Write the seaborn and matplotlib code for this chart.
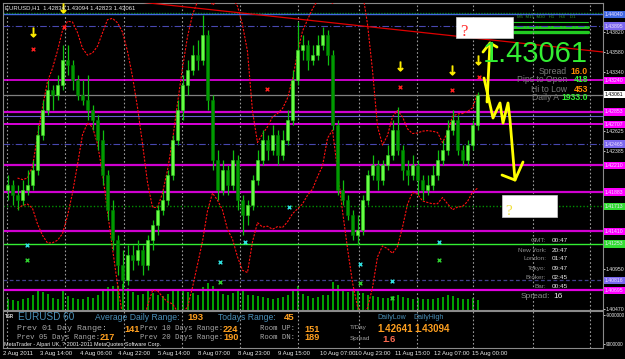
import numpy as np
import pandas as pd
import matplotlib
matplotlib.use("Agg")
import matplotlib.pyplot as plt
import matplotlib.transforms as mtransforms
from matplotlib.patches import Rectangle
import seaborn as sns

# ---------------- data (EURUSD, 2-hour candles) ----------------
bar_open = [1.41907, 1.41968, 1.41847, 1.41786, 1.41907, 1.41968, 1.42150, 1.42574, 1.42877, 1.43119,
            1.43059, 1.43180, 1.43483, 1.43422, 1.43240, 1.43059, 1.42998, 1.42877, 1.42756, 1.42513,
            1.42089, 1.41665, 1.41301, 1.40998, 1.40816, 1.41119, 1.41059, 1.41180, 1.40998, 1.41301,
            1.41483, 1.41665, 1.41786, 1.42089, 1.42513, 1.42877, 1.43180, 1.43362, 1.43543, 1.43483,
            1.43786, 1.42998, 1.42271, 1.41907, 1.42150, 1.41968, 1.42271, 1.41786, 1.41604, 1.41725,
            1.42028, 1.42271, 1.42513, 1.42392, 1.42574, 1.42331, 1.42513, 1.42756, 1.43240, 1.43604,
            1.43665, 1.43483, 1.43543, 1.43665, 1.43786, 1.43543, 1.42695, 1.41907, 1.41786, 1.41604,
            1.41362, 1.41422, 1.41786, 1.42089, 1.42210, 1.42028, 1.42210, 1.42331, 1.42634, 1.42392,
            1.42150, 1.42089, 1.42210, 1.42028, 1.41907, 1.41968, 1.42089, 1.42271, 1.42392, 1.42634,
            1.42756, 1.42392, 1.42271, 1.42453, 1.42695]
bar_high = [1.42089, 1.42028, 1.41968, 1.42028, 1.42150, 1.42271, 1.42695, 1.42998, 1.43240, 1.43180,
            1.43301, 1.43665, 1.43665, 1.43483, 1.43301, 1.43240, 1.43301, 1.42937, 1.42816, 1.42634,
            1.42150, 1.41786, 1.41362, 1.41180, 1.41241, 1.41241, 1.41301, 1.41241, 1.41362, 1.41544,
            1.41725, 1.41907, 1.42150, 1.42574, 1.42998, 1.43301, 1.43483, 1.43665, 1.43725, 1.44028,
            1.43846, 1.43059, 1.42392, 1.42271, 1.42210, 1.42392, 1.42331, 1.41847, 1.41786, 1.42089,
            1.42392, 1.42634, 1.42574, 1.42695, 1.42634, 1.42634, 1.42877, 1.43362, 1.43943, 1.43786,
            1.43725, 1.43665, 1.43786, 1.43883, 1.43846, 1.43604, 1.42756, 1.42028, 1.41847, 1.41665,
            1.41604, 1.41847, 1.42150, 1.42331, 1.42271, 1.42271, 1.42453, 1.42756, 1.42913, 1.42453,
            1.42271, 1.42331, 1.42271, 1.42089, 1.42089, 1.42210, 1.42392, 1.42513, 1.42756, 1.42877,
            1.42816, 1.42453, 1.42513, 1.42756, 1.43095]
bar_low = [1.41786, 1.41725, 1.41665, 1.41725, 1.41847, 1.41907, 1.42089, 1.42513, 1.42816, 1.42877,
           1.42998, 1.43119, 1.43301, 1.43119, 1.42998, 1.42937, 1.42756, 1.42634, 1.42392, 1.41968,
           1.41544, 1.41180, 1.40877, 1.40695, 1.40756, 1.40938, 1.40998, 1.40877, 1.40938, 1.41180,
           1.41362, 1.41604, 1.41725, 1.42028, 1.42453, 1.42756, 1.43059, 1.43301, 1.43362, 1.43422,
           1.42877, 1.42150, 1.41786, 1.41847, 1.41847, 1.41907, 1.41665, 1.41362, 1.41483, 1.41665,
           1.41968, 1.42210, 1.42271, 1.42331, 1.42210, 1.42271, 1.42453, 1.42695, 1.43180, 1.43483,
           1.43362, 1.43422, 1.43483, 1.43604, 1.43422, 1.42634, 1.41847, 1.41725, 1.41544, 1.41301,
           1.41241, 1.41362, 1.41725, 1.42028, 1.41907, 1.41968, 1.42150, 1.42271, 1.42331, 1.42028,
           1.41968, 1.42028, 1.41847, 1.41786, 1.41847, 1.41907, 1.42028, 1.42210, 1.42331, 1.42574,
           1.42331, 1.42210, 1.42210, 1.42392, 1.42634]
bar_close = [1.41968, 1.41847, 1.41786, 1.41907, 1.41968, 1.42150, 1.42574, 1.42877, 1.43119, 1.43059,
             1.43180, 1.43483, 1.43422, 1.43240, 1.43059, 1.42998, 1.42877, 1.42756, 1.42513, 1.42089,
             1.41665, 1.41301, 1.40998, 1.40816, 1.41119, 1.41059, 1.41180, 1.40998, 1.41301, 1.41483,
             1.41665, 1.41786, 1.42089, 1.42513, 1.42877, 1.43180, 1.43362, 1.43543, 1.43483, 1.43786,
             1.42998, 1.42271, 1.41907, 1.42150, 1.41968, 1.42271, 1.41786, 1.41604, 1.41725, 1.42028,
             1.42271, 1.42513, 1.42392, 1.42574, 1.42331, 1.42513, 1.42756, 1.43240, 1.43604, 1.43665,
             1.43483, 1.43543, 1.43665, 1.43786, 1.43543, 1.42695, 1.41907, 1.41786, 1.41604, 1.41362,
             1.41422, 1.41786, 1.42089, 1.42210, 1.42028, 1.42210, 1.42331, 1.42634, 1.42392, 1.42150,
             1.42089, 1.42210, 1.42028, 1.41907, 1.41968, 1.42089, 1.42271, 1.42392, 1.42634, 1.42756,
             1.42392, 1.42271, 1.42453, 1.42695, 1.43061]
tick_volume = [1400, 1200, 1100, 1300, 1500, 1800, 2600, 2200, 2000, 1500,
               1300, 2400, 1700, 1500, 1400, 1300, 1600, 1500, 1900, 2600,
               2800, 3000, 2900, 3200, 2700, 2200, 1800, 2000, 2300, 2100,
               1900, 1700, 2000, 2400, 2600, 2500, 2200, 2100, 1900, 2800,
               3300, 2900, 2600, 2000, 1800, 2100, 2300, 2500, 1900, 1800,
               1700, 1600, 1500, 1400, 1500, 1600, 1800, 2400, 2900, 2000,
               1700, 1500, 1600, 1800, 1900, 3400, 3100, 2500, 2200, 2400,
               2300, 2100, 1900, 1700, 1600, 1500, 1500, 1700, 1900, 1600,
               1500, 1400, 1500, 1400, 1300, 1400, 1500, 1600, 1800, 1700,
               1500, 1400, 1300, 1500, 1200]

date_labels = ["2 Aug 2011", "3 Aug 14:00", "4 Aug 06:00", "4 Aug 22:00", "5 Aug 14:00",
               "8 Aug 07:00", "8 Aug 23:00", "9 Aug 15:00", "10 Aug 07:00", "10 Aug 23:00",
               "11 Aug 15:00", "12 Aug 07:00", "15 Aug 00:00"]
date_label_bar = [-0.9, 6.5, 14.5, 22.1, 30.1, 38.1, 46.1, 54.1, 62.5, 69.5, 77.5, 85.3, 92.9]
grid_bar = [-0.1, 11.5, 23.3, 34.9, 46.5, 58.1, 70.3, 81.9, 93.1, 105.0, 116.5]

price_ticks = [1.43820, 1.43580, 1.43340, 1.42625, 1.42385, 1.40950, 1.40470]

level_prices = [1.44052, 1.44040, 1.43895, 1.43240, 1.43061, 1.42853, 1.42804, 1.42707,
                1.42465, 1.42210, 1.41883, 1.41713, 1.41410, 1.41253, 1.40816, 1.40695]
level_colors = ["#008000", "#4169e1", "#4848b0", "#ff00ff", "#808080", "#d000d0", "#6a5acd", "#ff00ff",
                "#4848b0", "#d000d0", "#d000d0", "#009000", "#d000d0", "#33ee33", "#40408a", "#e000e0"]
level_styles = [(0, (1, 1)), "-", (0, (6, 2, 1, 2)), "-", "-", "-", "-", "-",
                (0, (6, 2, 1, 2)), "-", "-", (0, (1, 1.5)), "-", "-", (0, (3, 2)), "-"]
level_widths = [1.0, 1.0, 0.8, 1.1, 0.9, 1.6, 0.8, 1.2, 0.8, 1.6, 1.6, 1.0, 1.6, 1.0, 0.9, 1.6]
level_box = ["", "#4169e1", "#7b68ee", "#ff00ff", "#ffffff", "#ff00ff", "", "#ff00ff",
             "#7b68ee", "#ff00ff", "#ff00ff", "#33dd33", "#ff00ff", "#33dd33", "#7b68ee", "#ff00ff"]

trend_bar = [26.5, 119.1]
trend_price = [1.44186, 1.43580]

sell_arrow_bar = [5.1, 11.1, 78.5, 88.9, 94.1]
sell_arrow_price = [1.43822, 1.44113, 1.43410, 1.43362, 1.43483]
red_x_bar = [5.1, 11.3, 51.9, 78.5, 88.9, 94.3]
red_x_price = [1.43616, 1.43883, 1.43131, 1.43156, 1.43119, 1.43277]
cyan_x_bar = [3.9, 47.5, 42.5, 56.3, 86.3, 70.5, 76.9]
cyan_x_price = [1.41241, 1.41277, 1.41034, 1.41701, 1.41277, 1.41010, 1.40804]
green_x_bar = [3.9, 42.5, 86.3, 70.5, 76.9]
green_x_price = [1.41059, 1.40792, 1.41059, 1.40780, 1.40598]

# hand-drawn yellow annotation (bar, price)
up_arrow_bar = [95.9, 96.5]
up_arrow_price = [1.42974, 1.43689]
up_head_bar = [95.1, 96.5, 97.9]
up_head_price = [1.43580, 1.43689, 1.43640]
zig_bar = [95.3, 97.1, 98.5, 99.1, 100.1, 100.5, 101.5]
zig_price = [1.43265, 1.42780, 1.42962, 1.42719, 1.42962, 1.42756, 1.42028]
zig_head_bar = [98.9, 101.5, 103.1]
zig_head_price = [1.42089, 1.42028, 1.42247]

# ---------------- figure ----------------
sns.set_theme(style="dark", rc={"axes.facecolor": "black", "figure.facecolor": "black"})
plt.rcParams["font.family"] = ["Liberation Sans", "DejaVu Sans"]

W, H = 625, 359
fig = plt.figure(figsize=(6.25, 3.59), dpi=100, facecolor="black")

def fbox(x0, y0, x1, y1):
    return [x0 / W, 1 - y1 / H, (x1 - x0) / W, (y1 - y0) / H]

XLIM = (-0.9, 119.1)
YLIM = (1.40453, 1.44174)

ax = fig.add_axes(fbox(3, 3, 603, 310))
vax = fig.add_axes(fbox(3, 280, 603, 310))
ax2 = fig.add_axes(fbox(3, 311, 603, 348))
vax.set_zorder(0)
ax.set_zorder(2)
ax.patch.set_visible(False)
vax.patch.set_visible(False)
ax2.set_facecolor("black")

idx = np.arange(len(bar_close))
df = pd.DataFrame({"bar": idx, "open": bar_open, "high": bar_high, "low": bar_low,
                   "close": bar_close, "volume": tick_volume})

# volume
vax.bar(df["bar"], df["volume"], width=0.4, color="#00a000", linewidth=0)
vax.set_xlim(*XLIM)
vax.set_ylim(0, 3700)
vax.axis("off")

# vertical grid
for g in grid_bar:
    ax.axvline(g, color="#9a9a9a", lw=0.8, ls=(0, (1.5, 2)), zorder=1)
    ax2.axvline(g, color="#9a9a9a", lw=0.8, ls=(0, (1.5, 2)), zorder=1)

# horizontal levels
for p, c, s, w in zip(level_prices, level_colors, level_styles, level_widths):
    ax.axhline(p, color=c, ls=s, lw=w, zorder=2)

# bollinger bands
mid = df["close"].rolling(10, min_periods=3).mean()
sd = df["close"].rolling(10, min_periods=3).std()
df["upper"] = mid + 2 * sd
df["lower"] = mid - 2 * sd
sns.lineplot(data=df, x="bar", y="upper", ax=ax, color="#ff1010", lw=0.8,
             linestyle=(0, (2, 1.2)), legend=False, zorder=3)
sns.lineplot(data=df, x="bar", y="lower", ax=ax, color="#ff1010", lw=0.8,
             linestyle=(0, (2, 1.2)), legend=False, zorder=3)

# trend line
sns.lineplot(x=trend_bar, y=trend_price, ax=ax, color="#e00000", lw=0.9, zorder=3)

# candles
up = df["close"] >= df["open"]
ax.vlines(df["bar"], df["low"], df["high"], color="#10c010", lw=0.9, zorder=4)
body_lo = np.minimum(df["open"], df["close"])
body_h = np.maximum(np.abs(df["close"] - df["open"]), 0.00004)
ax.bar(df["bar"], body_h, bottom=body_lo, width=0.6,
       color=np.where(up, "#66ff44", "#009a00"),
       edgecolor=np.where(up, "#33cc22", "#007a00"), linewidth=0.4, zorder=5)

# signal markers
sns.scatterplot(x=sell_arrow_bar, y=sell_arrow_price, ax=ax, marker=r"$\downarrow$", s=45,
                color="#ffee00", edgecolor="#ffee00", linewidth=0.6, zorder=6)
sns.scatterplot(x=red_x_bar, y=red_x_price, ax=ax, marker="x", s=7, color="#ff2020",
                linewidth=1.0, zorder=6)
sns.scatterplot(x=cyan_x_bar, y=cyan_x_price, ax=ax, marker="x", s=7, color="#30e0e0",
                linewidth=1.0, zorder=6)
sns.scatterplot(x=green_x_bar, y=green_x_price, ax=ax, marker="x", s=7, color="#30d030",
                linewidth=1.0, zorder=6)

# yellow hand drawing
yk = dict(color="#ffff00", lw=2.0, solid_capstyle="round", solid_joinstyle="round", zorder=8)
ax.plot(up_arrow_bar, up_arrow_price, **yk)
ax.plot(up_head_bar, up_head_price, **yk)
ax.plot(zig_bar, zig_price, **yk)
ax.plot(zig_head_bar, zig_head_price, **yk)

ax.set_xlim(*XLIM)
ax.set_ylim(*YLIM)
ax.set_xlabel("")
ax.set_ylabel("")
ax.set_xticks([])
ax.yaxis.tick_right()
ax.set_yticks(price_ticks, [f"{p:.5f}" for p in price_ticks])
ax.tick_params(axis="y", colors="#e8e8e8", labelsize=3.7, length=1.5, width=0.6, pad=0.6,
               labelcolor="#e8e8e8", right=True, left=False)
for s in ax.spines.values():
    s.set_color("#8a8a8a")
    s.set_linewidth(0.8)
    s.set_visible(True)

# price boxes on the right scale
bt = mtransforms.blended_transform_factory(ax.transAxes, ax.transData)
for p, bc in zip(level_prices, level_box):
    if not bc:
        continue
    tc = "#000000" if bc == "#ffffff" else "#f0e0ff"
    ax.text(1.0035, p, f"{p:.5f}", transform=bt, ha="left", va="center", fontsize=3.7,
            color=tc, clip_on=False, zorder=20,
            bbox=dict(boxstyle="square,pad=0.2", fc=bc, ec="none"))

# info sub-window
ax2.set_xlim(*XLIM)
ax2.set_ylim(11.5e6, -11.5e6)
ax2.yaxis.tick_right()
ax2.set_yticks([-9000000, 9000000], ["-9000000", "9000000"])
ax2.tick_params(axis="y", colors="#e8e8e8", labelsize=3.3, length=1.2, width=0.6, pad=0.5)
ax2.set_xticks(date_label_bar, date_labels)
ax2.tick_params(axis="x", colors="#e8e8e8", labelsize=4.3, length=0, pad=2.5)
for lbl in ax2.get_xticklabels():
    lbl.set_horizontalalignment("left")
for s in ax2.spines.values():
    s.set_color("#8a8a8a")
    s.set_linewidth(0.8)

# ---------------- texts ----------------
def ftxt(x, y, s, **kw):
    kw.setdefault("va", "baseline")
    fig.text(x / W, 1 - y / H, s, **kw)

ftxt(5, 9, "EURUSD,H1  1.42834 1.43094 1.42823 1.43061", fontsize=4.3, color="#e8e8e8")

# white "?" boxes
ax.add_patch(Rectangle((89.6, 1.43749), 11.4, 0.00255, fc="white", ec="#d0d0d0", lw=0.5,
                       zorder=9))
ax.add_patch(Rectangle((98.9, 1.41580), 11.0, 0.00267, fc="white", ec="#d0d0d0", lw=0.5,
                       zorder=9))
ftxt(460, 36, "?", fontsize=12, color="#ff3030", family="Liberation Serif", zorder=10)
ftxt(505, 215, "?", fontsize=11, color="#f0e040", family="Liberation Serif", zorder=10)

# timeframe strip
ftxt(517, 17.5, "M5  M15  M30   H1    H4    D1", fontsize=3.2, color="#309030")
for yy, lw in [(22, 0.8), (27, 2.2), (32, 2.4)]:
    fig.add_artist(plt.Line2D([512 / W, 588 / W], [1 - yy / H, 1 - yy / H],
                              color="#22cc22", lw=lw))

ftxt(588, 62, "1.43061", fontsize=21, color="#33ee33", ha="right")
rows = [("Spread", "16.0", "#ff8c00"), ("Pips to Open", "418", "#33ee33"),
        ("Hi to Low", "453", "#ff8c00"), ("Daily A", "1933.0", "#33ee33")]
for k, (lab, val, vc) in enumerate(rows):
    yb = [74, 82.5, 91.5, 100.5][k]
    ftxt(567 if k < 3 else 559, yb, lab, fontsize=6.2, color="#7a7a7a", ha="right")
    ftxt(588, yb, val, fontsize=6.2, color=vc, ha="right", weight="bold")

clock = [("GMT:", "00:47"), ("New York:", "20:47"), ("London:", "01:47"),
         ("Tokyo:", "09:47"), ("Broker:", "02:45"), ("Bar:", "00:45")]
for k, (lab, val) in enumerate(clock):
    yb = [242.5, 251.5, 260.5, 270, 279, 288][k]
    ftxt(546, yb, lab, fontsize=4.6, color="#8c8c8c", ha="right")
    ftxt(552, yb, val, fontsize=4.6, color="#e8e8e8")
ftxt(550, 298, "Spread:", fontsize=6.0, color="#8c8c8c", ha="right")
ftxt(553, 298, "16", fontsize=6.0, color="#e8e8e8")

# info panel
blue = "#4a90b8"
orange = "#ffa020"
mono = dict(family=["Liberation Mono", "DejaVu Sans Mono"], color="#a8a8a8")
ftxt(5, 318, "TSR", fontsize=3.3, color="#e0e0e0", weight="bold")
ftxt(18, 320, "EURUSD 60", fontsize=7.2, color=blue)
ftxt(95, 319.5, "Average Daily Range:", fontsize=6.2, color=blue)
ftxt(187, 320.5, "193", fontsize=6.8, color=orange, weight="bold")
ftxt(218, 319.5, "Todays Range:", fontsize=6.2, color=blue)
ftxt(284, 320.5, "45", fontsize=6.8, color=orange, weight="bold")

ftxt(17, 330, "Prev 01 Day Range:", fontsize=6.0, **mono)
ftxt(124, 331.5, "141", fontsize=6.6, color=orange, weight="bold")
ftxt(140, 330, "Prev 10 Days Range:", fontsize=5.2, **mono)
ftxt(223, 331.5, "224", fontsize=6.6, color=orange, weight="bold")
ftxt(260, 330, "Room UP:", fontsize=5.2, **mono)
ftxt(304, 331.5, "151", fontsize=6.6, color=orange, weight="bold")

ftxt(17, 339, "Prev 05 Days Range:", fontsize=5.2, **mono)
ftxt(100, 340.5, "217", fontsize=6.6, color=orange, weight="bold")
ftxt(140, 339, "Prev 20 Days Range:", fontsize=5.2, **mono)
ftxt(223, 340.5, "190", fontsize=6.6, color=orange, weight="bold")
ftxt(260, 339, "Room DN:", fontsize=5.2, **mono)
ftxt(304, 340.5, "189", fontsize=6.6, color=orange, weight="bold")

ftxt(4, 346, "MetaTrader - Alpari UK, ? 2001-2011 MetaQuotes Software Corp.",
     fontsize=3.9, color="#f0f0f0")

ftxt(377, 319, "DailyLow", fontsize=5.0, color=blue)
ftxt(413, 319, "DailyHigh", fontsize=5.0, color=blue)
ftxt(350, 329, "T/Day", fontsize=4.6, color="#a0a0a0")
ftxt(377, 332.5, "1.42641", fontsize=7.0, color=orange, weight="bold")
ftxt(414, 332.5, "1.43094", fontsize=7.0, color=orange, weight="bold")
ftxt(350, 340, "Spread", fontsize=4.6, color="#a0a0a0")
ftxt(382, 342, "1.6", fontsize=6.8, color="#ff6a50", weight="bold")

fig.savefig("out.png", dpi=100, facecolor="black")
